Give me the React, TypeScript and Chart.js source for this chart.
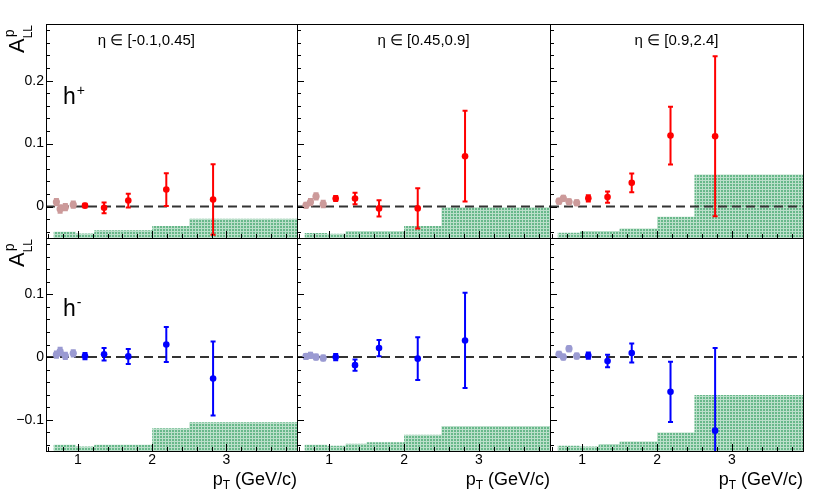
import { useEffect, useRef } from 'react';
import { Chart, registerables } from 'chart.js';

Chart.register(...registerables);

const FONT = '"Liberation Sans", Arial, Helvetica, sans-serif';
const W = 830;
const H = 491;

// pad edges in pixels (3 x 2 pads, no gaps between them)
const colEdges = [46, 297, 550, 803];
const rowEdges = [24, 238, 451];
const Y_AXIS_W = 44;
const X_AXIS_H = 22;

// axis ranges and tick labels
const ptRange = [0.57, 3.95];
const ptTicks = [1, 2, 3];
const yRanges = [
  [-0.05, 0.29],
  [-0.15, 0.19],
];
const yTicks = [
  [0, 0.1, 0.2],
  [-0.1, 0, 0.1],
];

const etaBins = ['η ∈ [-0.1,0.45]', 'η ∈ [0.45,0.9]', 'η ∈ [0.9,2.4]'];
const chargeLabels = ['h', 'h'];
const chargeSigns = ['+', '-'];

// low pT points (pale markers), one row per eta bin
const lowPt = [
  [0.71, 0.76, 0.83, 0.937],
  [0.69, 0.75, 0.824, 0.92],
  [0.69, 0.748, 0.824, 0.927],
];
// higher pT points
const highPt = [
  [1.095, 1.352, 1.678, 2.19, 2.82],
  [1.087, 1.345, 1.666, 2.183, 2.815],
  [1.082, 1.339, 1.662, 2.18, 2.776],
];

// h+
const hPlusLow = [
  [0.007, -0.004, -0.001, 0.003],
  [0.002, 0.007, 0.016, 0.004],
  [0.0085, 0.013, 0.0075, 0.006],
];
const hPlusLowErr = [
  [0.005, 0.006, 0.005, 0.005],
  [0.004, 0.005, 0.005, 0.005],
  [0.004, 0.004, 0.004, 0.004],
];
const hPlusHigh = [
  [0.0015, -0.002, 0.0095, 0.027, 0.011],
  [0.0127, 0.0127, -0.003, -0.003, 0.08],
  [0.013, 0.015, 0.0376, 0.1127, 0.1116],
];
const hPlusHighErr = [
  [0.003, 0.0085, 0.011, 0.026, 0.056],
  [0.004, 0.009, 0.013, 0.032, 0.072],
  [0.005, 0.009, 0.015, 0.046, 0.127],
];

// h-
const hMinusLow = [
  [0.004, 0.009, 0.002, 0.006],
  [0.001, 0.0027, 0.0, -0.0016],
  [0.0043, 0.0, 0.0133, 0.0016],
];
const hMinusLowErr = [
  [0.005, 0.006, 0.005, 0.005],
  [0.004, 0.004, 0.004, 0.004],
  [0.004, 0.004, 0.004, 0.004],
];
const hMinusHigh = [
  [0.0016, 0.0043, 0.001, 0.0201, -0.0344],
  [0.0, -0.013, 0.0143, -0.0026, 0.0265],
  [0.0022, -0.0063, 0.0064, -0.0556, -0.1175],
];
const hMinusHighErr = [
  [0.005, 0.01, 0.012, 0.028, 0.059],
  [0.005, 0.009, 0.013, 0.034, 0.076],
  [0.005, 0.01, 0.015, 0.048, 0.132],
];

// systematic band: bin edges and upper edge of the band in each bin
const sysEdges = [0.67, 0.97, 1.22, 1.5, 2.0, 2.5, 3.95];
const hPlusSys = [
  [-0.04, -0.043, -0.0376, -0.0376, -0.031, -0.0195],
  [-0.042, -0.0434, -0.039, -0.039, -0.031, -0.001],
  [-0.0418, -0.039, -0.039, -0.035, -0.0164, 0.0508],
];
const hMinusSys = [
  [-0.14, -0.143, -0.14, -0.14, -0.1137, -0.104],
  [-0.14, -0.1417, -0.1386, -0.136, -0.124, -0.11],
  [-0.1417, -0.1428, -0.139, -0.135, -0.1206, -0.0608],
];

const colors = {
  plus: '#ff0000',
  plusLow: '#cc9a9a',
  minus: '#0000ff',
  minusLow: '#9a9ad2',
};

const etaLabelPos = [0.4, 0.5, 0.5];

function fmtTick(v: number) {
  if (v === 0) return '0';
  return v < 0 ? '\u2212' + Math.abs(v) : String(v);
}

function makePattern(): CanvasPattern | string {
  const c = document.createElement('canvas');
  c.width = 3;
  c.height = 3;
  const g = c.getContext('2d');
  if (!g) return '#8cc8a5';
  g.fillStyle = 'rgb(104,184,138)';
  g.fillRect(0, 0, 3, 3);
  g.fillStyle = 'rgba(255,255,255,0.55)';
  g.fillRect(0, 0, 3, 1);
  g.fillRect(0, 1, 1, 2);
  return g.createPattern(c, 'repeat') || '#8cc8a5';
}

const decorPlugin = {
  id: 'panelDecor',
  beforeDatasetDraw(chart: any, args: any) {
    const ds: any = chart.data.datasets[args.index];
    if (!ds.errors) return;
    const { ctx, chartArea: a } = chart;
    const xs = chart.scales.x;
    const ys = chart.scales.y;
    ctx.save();
    ctx.beginPath();
    ctx.rect(a.left, a.top, a.right - a.left, a.bottom - a.top);
    ctx.clip();
    ctx.strokeStyle = ds.pointBackgroundColor;
    ctx.lineWidth = 2;
    ds.data.forEach((p: any, i: number) => {
      const e = ds.errors[i];
      const px = xs.getPixelForValue(p.x);
      const y1 = ys.getPixelForValue(p.y + e);
      const y2 = ys.getPixelForValue(p.y - e);
      ctx.beginPath();
      ctx.moveTo(px, y1);
      ctx.lineTo(px, y2);
      ctx.moveTo(px - 2.5, y1);
      ctx.lineTo(px + 2.5, y1);
      ctx.moveTo(px - 2.5, y2);
      ctx.lineTo(px + 2.5, y2);
      ctx.stroke();
    });
    ctx.restore();
  },
  afterDraw(chart: any, _args: any, opts: any) {
    const { ctx, chartArea: a } = chart;
    const { row, col } = opts;
    const xs = chart.scales.x;
    const ys = chart.scales.y;
    ctx.save();

    // frame
    ctx.strokeStyle = '#000';
    ctx.lineWidth = 1;
    ctx.strokeRect(a.left + 0.5, a.top + 0.5, a.right - a.left, a.bottom - a.top);

    // inward ticks, left and bottom
    ctx.beginPath();
    for (let k = Math.ceil(ys.min / 0.02 - 1e-6); k * 0.02 <= ys.max + 1e-9; k++) {
      const py = Math.round(ys.getPixelForValue(k * 0.02)) + 0.5;
      ctx.moveTo(a.left, py);
      ctx.lineTo(a.left + (k % 5 === 0 ? 7 : 4), py);
    }
    for (let k = Math.ceil(xs.min / 0.2 - 1e-6); k * 0.2 <= xs.max + 1e-9; k++) {
      const px = Math.round(xs.getPixelForValue(k * 0.2)) + 0.5;
      ctx.moveTo(px, a.bottom);
      ctx.lineTo(px, a.bottom - (k % 5 === 0 ? 7 : 4));
    }
    ctx.stroke();

    ctx.fillStyle = '#000';
    ctx.textBaseline = 'alphabetic';

    if (row === 0) {
      ctx.font = `15px ${FONT}`;
      ctx.textAlign = 'center';
      ctx.fillText(etaBins[col], a.left + etaLabelPos[col] * (a.right - a.left), a.top + 20.5);
    }

    if (col === 0) {
      // h+ / h-
      ctx.textAlign = 'left';
      ctx.font = `23px ${FONT}`;
      const hx = a.left + 17;
      const hy = a.top + (row === 0 ? 80 : 78);
      ctx.fillText(chargeLabels[row], hx, hy);
      const hw = ctx.measureText(chargeLabels[row]).width;
      ctx.font = `14px ${FONT}`;
      ctx.fillText(chargeSigns[row], hx + hw + 1, hy - 9);

      // A_LL^p
      ctx.save();
      ctx.translate(24, a.top + 29);
      ctx.rotate(-Math.PI / 2);
      ctx.font = `22px ${FONT}`;
      ctx.fillText('A', 0, 0);
      const aw = ctx.measureText('A').width;
      ctx.font = `14px ${FONT}`;
      ctx.fillText('p', aw + 1, -10);
      ctx.font = `12px ${FONT}`;
      ctx.fillText('LL', aw, 8);
      ctx.restore();
    }

    if (row === 1) {
      // p_T (GeV/c)
      ctx.textAlign = 'left';
      ctx.font = `18px ${FONT}`;
      const wp = ctx.measureText('p').width;
      const wr = ctx.measureText(' (GeV/c)').width;
      ctx.font = `12px ${FONT}`;
      const wt = ctx.measureText('T').width;
      const x0 = a.right - (wp + wt + wr);
      ctx.fillText('T', x0 + wp, 489);
      ctx.font = `18px ${FONT}`;
      ctx.fillText('p', x0, 485);
      ctx.fillText(' (GeV/c)', x0 + wp + wt, 485);
    }
    ctx.restore();
  },
};

function stepBand(values: number[]) {
  const pts = values.map((v, i) => ({ x: sysEdges[i], y: v }));
  pts.push({ x: sysEdges[sysEdges.length - 1], y: values[values.length - 1] });
  return pts;
}

function points(xs: number[], ys: number[]) {
  return xs.map((x, i) => ({ x, y: ys[i] }));
}

function panelConfig(row: number, col: number, pattern: CanvasPattern | string): any {
  const plus = row === 0;
  const low = plus ? hPlusLow[col] : hMinusLow[col];
  const lowErr = plus ? hPlusLowErr[col] : hMinusLowErr[col];
  const high = plus ? hPlusHigh[col] : hMinusHigh[col];
  const highErr = plus ? hPlusHighErr[col] : hMinusHighErr[col];
  const sys = plus ? hPlusSys[col] : hMinusSys[col];
  const cLow = plus ? colors.plusLow : colors.minusLow;
  const cHigh = plus ? colors.plus : colors.minus;

  const L = colEdges[col];
  const R = colEdges[col + 1];
  const T = rowEdges[row];
  const B = rowEdges[row + 1];

  return {
    type: 'scatter',
    data: {
      datasets: [
        {
          label: 'high pT',
          data: points(highPt[col], high),
          errors: highErr,
          pointRadius: 3.3,
          pointBorderWidth: 0,
          pointBackgroundColor: cHigh,
          borderColor: cHigh,
          order: 0,
        },
        {
          label: 'low pT',
          data: points(lowPt[col], low),
          errors: lowErr,
          pointRadius: 3.6,
          pointBorderWidth: 0,
          pointBackgroundColor: cLow,
          borderColor: cLow,
          order: 1,
        },
        {
          type: 'line',
          label: 'zero',
          data: [
            { x: ptRange[0], y: 0 },
            { x: ptRange[1], y: 0 },
          ],
          borderColor: '#333',
          borderWidth: 2,
          borderDash: [9, 5],
          pointRadius: 0,
          fill: false,
          order: 2,
        },
        {
          type: 'line',
          label: 'syst',
          data: stepBand(sys),
          stepped: true,
          borderWidth: 0,
          borderColor: 'rgba(0,0,0,0)',
          pointRadius: 0,
          fill: 'start',
          backgroundColor: pattern,
          order: 3,
        },
      ],
    },
    options: {
      animation: false,
      responsive: false,
      maintainAspectRatio: false,
      events: [],
      layout: {
        padding: {
          left: L - Y_AXIS_W,
          right: W - R,
          top: T,
          bottom: H - B - X_AXIS_H,
        },
      },
      plugins: {
        legend: { display: false },
        tooltip: { enabled: false },
        panelDecor: { row, col },
      },
      scales: {
        x: {
          type: 'linear',
          min: ptRange[0],
          max: ptRange[1],
          grid: { display: false, drawTicks: false },
          border: { display: false },
          afterBuildTicks: (s: any) => {
            s.ticks = ptTicks.map((v) => ({ value: v }));
          },
          afterFit: (s: any) => {
            s.height = X_AXIS_H;
          },
          ticks: {
            display: row === 1,
            padding: 1,
            maxRotation: 0,
            autoSkip: false,
            color: '#000',
            font: { family: FONT, size: 14 },
            callback: (v: any) => String(v),
          },
        },
        y: {
          type: 'linear',
          min: yRanges[row][0],
          max: yRanges[row][1],
          grid: { display: false, drawTicks: false },
          border: { display: false },
          afterBuildTicks: (s: any) => {
            s.ticks = yTicks[row].map((v) => ({ value: v }));
          },
          afterFit: (s: any) => {
            s.width = Y_AXIS_W;
          },
          ticks: {
            display: col === 0,
            padding: 2,
            autoSkip: false,
            color: '#000',
            font: { family: FONT, size: 14 },
            callback: (v: any) => fmtTick(Number(v)),
          },
        },
      },
    },
    plugins: [decorPlugin],
  };
}

const panels = [
  [0, 0],
  [0, 1],
  [0, 2],
  [1, 0],
  [1, 1],
  [1, 2],
];

export default function App() {
  const canvasRefs = useRef<(HTMLCanvasElement | null)[]>([]);

  useEffect(() => {
    const pattern = makePattern();
    const charts: Chart[] = [];
    panels.forEach(([row, col], i) => {
      const canvas = canvasRefs.current[i];
      if (!canvas) return;
      charts.push(new Chart(canvas, panelConfig(row, col, pattern)));
    });
    return () => {
      charts.forEach((c) => c.destroy());
    };
  }, []);

  return (
    <div
      style={{
        position: 'fixed',
        left: 0,
        top: 0,
        width: W,
        height: H,
        background: '#fff',
        overflow: 'hidden',
      }}
    >
      {panels.map((_, i) => (
        <canvas
          key={i}
          ref={(el) => {
            canvasRefs.current[i] = el;
          }}
          width={W}
          height={H}
          style={{ position: 'absolute', left: 0, top: 0, width: W, height: H }}
        />
      ))}
    </div>
  );
}
